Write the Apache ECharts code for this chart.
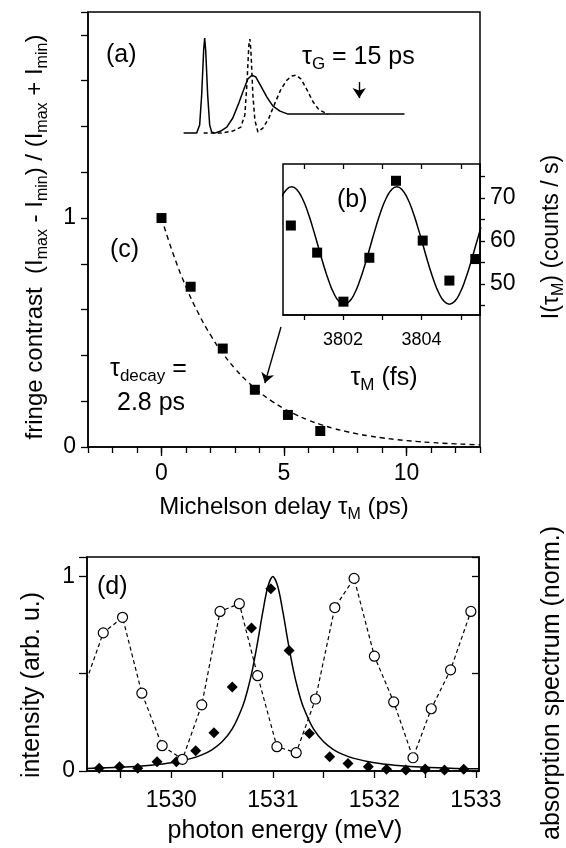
<!DOCTYPE html>
<html>
<head>
<meta charset="utf-8">
<script src="https://cdn.jsdelivr.net/npm/echarts@6/dist/echarts.min.js"></script>
<style>
  html, body { margin: 0; padding: 0; background: #fff; }
  #chart { width: 566px; height: 848px; }
</style>
</head>
<body>
<div id="chart"></div>
<script>
// (c) fringe contrast vs Michelson delay
const delayPs = [0, 1.19, 2.50, 3.81, 5.16, 6.48];
const contrast = [1.0, 0.70, 0.43, 0.25, 0.14, 0.07];
const fitDelay = [0, 0.5, 1, 1.5, 2, 2.5, 3, 3.5, 4, 4.5, 5, 5.5, 6, 6.5, 7, 7.5, 8, 8.5, 9, 9.5, 10, 10.5, 11, 11.5, 12, 12.5, 13];
const fitContrast = [1, 0.8365, 0.6997, 0.5853, 0.4896, 0.4095, 0.3425, 0.2865, 0.2397, 0.2005, 0.1677, 0.1403, 0.1173, 0.0981, 0.0821, 0.0687, 0.0574, 0.0480, 0.0402, 0.0336, 0.0281, 0.0235, 0.0197, 0.0165, 0.0138, 0.0115, 0.0096];

// (a) pulse sketch, drawn in the axes of (c)
const pulseX = [0.902, 1.434, 1.557, 1.639, 1.721, 1.762, 1.803, 1.885, 1.967, 2.049, 2.172, 2.418, 2.664, 2.910, 3.156, 3.361, 3.525, 3.689, 3.852, 4.057, 4.303, 4.549, 4.836, 5.164, 9.918];
const pulseY = [1.371, 1.371, 1.406, 1.537, 1.734, 1.786, 1.734, 1.537, 1.406, 1.376, 1.371, 1.380, 1.397, 1.437, 1.502, 1.563, 1.607, 1.624, 1.616, 1.576, 1.528, 1.489, 1.467, 1.454, 1.454];
const delayedX = [1.721, 2.418, 2.910, 3.238, 3.402, 3.484, 3.566, 3.607, 3.648, 3.730, 3.811, 3.934, 4.139, 4.385, 4.631, 4.877, 5.123, 5.328, 5.492, 5.697, 5.943, 6.189, 6.434, 6.803];
const delayedY = [1.371, 1.371, 1.380, 1.397, 1.450, 1.581, 1.755, 1.782, 1.734, 1.537, 1.428, 1.376, 1.393, 1.437, 1.502, 1.563, 1.603, 1.620, 1.624, 1.607, 1.559, 1.507, 1.472, 1.454];

// (b) interferogram
const tauFs = [3800.67, 3801.34, 3802.01, 3802.67, 3803.35, 3804.03, 3804.71, 3805.37];
const counts = [63.6, 57.3, 45.9, 56.1, 74.0, 60.1, 50.8, 55.8];
const sineX = [3800.422, 3800.556, 3800.690, 3800.824, 3800.958, 3801.092, 3801.226, 3801.360, 3801.494, 3801.628, 3801.762, 3801.896, 3802.030, 3802.164, 3802.298, 3802.432, 3802.566, 3802.700, 3802.834, 3802.968, 3803.102, 3803.236, 3803.370, 3803.504, 3803.638, 3803.772, 3803.906, 3804.040, 3804.174, 3804.308, 3804.442, 3804.576, 3804.710, 3804.844, 3804.978, 3805.112, 3805.246, 3805.380, 3805.514];
const sineY = [69.99, 71.93, 72.60, 71.93, 69.99, 66.97, 63.17, 58.95, 54.73, 50.93, 47.91, 45.97, 45.30, 45.97, 47.91, 50.93, 54.73, 58.95, 63.17, 66.97, 69.99, 71.93, 72.60, 71.93, 69.99, 66.97, 63.17, 58.95, 54.73, 50.93, 47.91, 45.97, 45.30, 45.97, 47.91, 50.93, 54.73, 58.95, 63.17];

// (d) spectra
const absX = [1529.12, 1529.33, 1529.52, 1529.71, 1529.91, 1530.11, 1530.30, 1530.48, 1530.67, 1530.85, 1531.04, 1531.23, 1531.42, 1531.61, 1531.80, 1532.00, 1532.19, 1532.38, 1532.56, 1532.75, 1532.95];
const absY = [0.40, 0.71, 0.79, 0.40, 0.13, 0.06, 0.34, 0.82, 0.86, 0.49, 0.125, 0.094, 0.37, 0.84, 0.99, 0.59, 0.355, 0.068, 0.32, 0.52, 0.82];
const emX = [1529.29, 1529.49, 1529.67, 1529.86, 1530.05, 1530.24, 1530.42, 1530.60, 1530.79, 1530.98, 1531.16, 1531.36, 1531.56, 1531.74, 1531.94, 1532.12, 1532.31, 1532.50, 1532.69, 1532.88];
const emY = [0.014, 0.022, 0.014, 0.048, 0.048, 0.104, 0.196, 0.432, 0.735, 0.937, 0.62, 0.193, 0.073, 0.039, 0.022, 0.009, 0.005, 0.01, 0.005, 0.009];
const lorX = [1529.17, 1529.5, 1529.8, 1530.0, 1530.2, 1530.3, 1530.4, 1530.5, 1530.6, 1530.7, 1530.75, 1530.8, 1530.85, 1530.9, 1530.95, 1531.0, 1531.05, 1531.1, 1531.15, 1531.2, 1531.25, 1531.3, 1531.4, 1531.5, 1531.6, 1531.7, 1531.8, 1532.0, 1532.2, 1532.5, 1532.83, 1533.03];
const lorY = [0.013, 0.019, 0.030, 0.042, 0.065, 0.083, 0.109, 0.150, 0.216, 0.329, 0.414, 0.524, 0.662, 0.815, 0.946, 1.0, 0.946, 0.815, 0.662, 0.524, 0.414, 0.329, 0.216, 0.150, 0.109, 0.083, 0.065, 0.042, 0.030, 0.019, 0.013, 0.011];

// tick labels
const delayTicks = [0, 5, 10];
const contrastTicks = [0, 1];
const fsTicks = [3801, 3802, 3803, 3804, 3805];
const fsLabels = [3802, 3804];
const countTicks = [45, 50, 55, 60, 65, 70, 75];
const countLabels = [50, 60, 70];
const energyTicks = [1529.5, 1530, 1530.5, 1531, 1531.5, 1532, 1532.5, 1533];
const energyLabels = [1530, 1531, 1532, 1533];

const FONT = '"Liberation Sans", Arial, Helvetica, sans-serif';
const pairs = (xs, ys) => xs.map((x, i) => [x, ys[i]]);
const black = '#000';

// n = normal text, s = subscript
function richFor(size) {
    return {
        n: { fontSize: size, lineHeight: size + 7, fontFamily: FONT, fill: black },
        s: { fontSize: Math.round(size * 0.68), lineHeight: 14, verticalAlign: 'bottom', fontFamily: FONT, fill: black },
    };
}

function label(x, y, text, opts) {
    const o = opts || {};
    return {
        type: 'text',
        x: x,
        y: y,
        rotation: o.vertical ? Math.PI / 2 : 0,
        silent: true,
        style: {
            text: text,
            rich: richFor(o.size || 25),
            align: o.align || 'center',
            verticalAlign: 'middle',
        },
    };
}

const axisLine = { show: true, onZero: false, lineStyle: { color: black, width: 1.5 } };
const noLine = { show: false, onZero: false };
const tickStyle = { color: black, width: 1.3 };
const plain = (v) => String(v);
const labelFont = (size, margin, values) => ({
    customValues: values, margin: margin, formatter: plain,
    color: black, fontSize: size, fontFamily: FONT,
});

const chart = echarts.init(document.getElementById('chart'));

chart.setOption({
    animation: false,
    backgroundColor: '#fff',
    grid: [
        { left: 88, top: 12, width: 392, height: 435, show: true, borderColor: black, borderWidth: 1.5, outerBoundsMode: 'none' },
        { left: 283, top: 164, width: 197, height: 151, show: true, borderColor: black, borderWidth: 1.5, backgroundColor: '#fff', outerBoundsMode: 'none' },
        { left: 87, top: 557, width: 392, height: 214, show: true, borderColor: black, borderWidth: 1.5, outerBoundsMode: 'none' },
    ],
    xAxis: [
        {
            gridIndex: 0, type: 'value', min: -3, max: 13, interval: 1,
            axisLine: axisLine, splitLine: { show: false },
            axisTick: { length: 6, lineStyle: tickStyle },
            axisLabel: labelFont(23, 15, delayTicks),
        },
        {
            gridIndex: 0, type: 'value', min: -3, max: 13, position: 'bottom',
            axisLine: noLine, splitLine: { show: false },
            axisTick: { customValues: delayTicks, length: 9, lineStyle: tickStyle },
            axisLabel: { show: false },
        },
        {
            gridIndex: 1, type: 'value', min: 3800.47, max: 3805.49, position: 'bottom',
            axisLine: axisLine, splitLine: { show: false },
            axisTick: { customValues: fsTicks, length: 5, lineStyle: tickStyle },
            axisLabel: labelFont(18, 16, fsLabels),
        },
        {
            gridIndex: 1, type: 'value', min: 3800.47, max: 3805.49, position: 'top',
            axisLine: noLine, splitLine: { show: false },
            axisTick: { customValues: fsTicks, inside: true, length: 5, lineStyle: tickStyle },
            axisLabel: { show: false },
        },
        {
            gridIndex: 2, type: 'value', min: 1529.17, max: 1533.03,
            axisLine: axisLine, splitLine: { show: false },
            axisTick: { customValues: energyTicks, length: 7, lineStyle: tickStyle },
            axisLabel: labelFont(23, 18, energyLabels),
        },
    ],
    yAxis: [
        {
            gridIndex: 0, type: 'value', min: 0, max: 1.9, interval: 0.2,
            axisLine: axisLine, splitLine: { show: false },
            axisTick: { length: 7, lineStyle: tickStyle },
            axisLabel: labelFont(23, 12, contrastTicks),
        },
        {
            gridIndex: 1, type: 'value', min: 42.8, max: 77.9, position: 'right',
            axisLine: axisLine, splitLine: { show: false },
            axisTick: { customValues: countTicks, length: 5, lineStyle: tickStyle },
            axisLabel: labelFont(23, 10, countLabels),
        },
        {
            gridIndex: 2, type: 'value', min: 0, max: 1.1, interval: 0.5,
            axisLine: axisLine, splitLine: { show: false },
            axisTick: { length: 8, lineStyle: tickStyle },
            axisLabel: labelFont(23, 12, contrastTicks),
        },
        {
            gridIndex: 2, type: 'value', min: 0, max: 1.1, interval: 0.5, position: 'right',
            axisLine: axisLine, splitLine: { show: false },
            axisTick: { inside: true, length: 7, lineStyle: tickStyle },
            axisLabel: { show: false },
        },
    ],
    series: [
        {
            name: 'fit', type: 'line', xAxisIndex: 0, yAxisIndex: 0,
            data: pairs(fitDelay, fitContrast), showSymbol: false, smooth: true,
            lineStyle: { color: black, width: 1.4, type: [5, 4] },
            markLine: {
                silent: true, symbol: ['none', 'arrow'], symbolSize: 10,
                label: { show: false },
                lineStyle: { color: black, width: 1.4, type: 'solid' },
                emphasis: { disabled: true },
                data: [
                    [{ coord: [8.07, 1.594] }, { coord: [8.07, 1.524] }],
                    [{ coord: [4.877, 0.524] }, { coord: [4.221, 0.279] }],
                ],
            },
        },
        {
            name: 'contrast', type: 'scatter', xAxisIndex: 0, yAxisIndex: 0,
            data: pairs(delayPs, contrast), symbol: 'rect', symbolSize: 10,
            itemStyle: { color: black, opacity: 1 }, z: 3,
        },
        {
            name: 'pulse', type: 'line', xAxisIndex: 0, yAxisIndex: 0,
            data: pairs(pulseX, pulseY), showSymbol: false,
            lineStyle: { color: black, width: 1.5 },
        },
        {
            name: 'delayed pulse', type: 'line', xAxisIndex: 0, yAxisIndex: 0,
            data: pairs(delayedX, delayedY), showSymbol: false,
            lineStyle: { color: black, width: 1.5, type: [4, 3] },
        },
        {
            name: 'interferogram fit', type: 'line', xAxisIndex: 2, yAxisIndex: 1,
            data: pairs(sineX, sineY), showSymbol: false, smooth: true, z: 5,
            lineStyle: { color: black, width: 1.5 },
        },
        {
            name: 'interferogram', type: 'scatter', xAxisIndex: 2, yAxisIndex: 1,
            data: pairs(tauFs, counts), symbol: 'rect', symbolSize: 10, z: 6,
            itemStyle: { color: black, opacity: 1 },
        },
        {
            name: 'lorentzian', type: 'line', xAxisIndex: 4, yAxisIndex: 2,
            data: pairs(lorX, lorY), showSymbol: false, smooth: 0.3,
            lineStyle: { color: black, width: 1.5 },
        },
        {
            name: 'emission', type: 'scatter', xAxisIndex: 4, yAxisIndex: 2,
            data: pairs(emX, emY), symbol: 'diamond', symbolSize: 11,
            itemStyle: { color: black, opacity: 1 }, z: 3,
        },
        {
            name: 'absorption', type: 'line', xAxisIndex: 4, yAxisIndex: 2,
            data: pairs(absX, absY).map((p, i) => (i === 0 ? { value: p, symbol: 'none' } : p)),
            symbol: 'circle', symbolSize: 10, showAllSymbol: true, z: 4,
            lineStyle: { color: black, width: 1.2, type: [4, 3] },
            itemStyle: { color: '#fff', borderColor: black, borderWidth: 1.2, opacity: 1 },
        },
    ],
    graphic: [
        label(35, 237, '{n|fringe contrast  (I}{s|max}{n| - I}{s|min}{n|) / (I}{s|max}{n| + I}{s|min}{n|)}', { vertical: true, size: 24 }),
        label(284, 507, '{n|Michelson delay τ}{s|M}{n| (ps)}', { size: 24 }),
        label(552, 237, '{n|I(τ}{s|M}{n|) (counts / s)}', { vertical: true, size: 23 }),
        label(384, 378, '{n|τ}{s|M}{n| (fs)}'),
        label(106, 55, '{n|(a)}', { align: 'left' }),
        label(302, 57, '{n|τ}{s|G}{n| = 15 ps}', { align: 'left' }),
        label(337, 200, '{n|(b)}', { align: 'left' }),
        label(110, 250, '{n|(c)}', { align: 'left' }),
        label(110, 369, '{n|τ}{s|decay}{n| =}', { align: 'left' }),
        label(117, 403, '{n|2.8 ps}', { align: 'left' }),
        label(97, 587, '{n|(d)}', { align: 'left' }),
        label(32, 685, '{n|intensity (arb. u.)}', { vertical: true }),
        label(552, 683, '{n|absorption spectrum (norm.)}', { vertical: true }),
        label(285, 831, '{n|photon energy (meV)}'),
    ],
});
</script>
</body>
</html>
